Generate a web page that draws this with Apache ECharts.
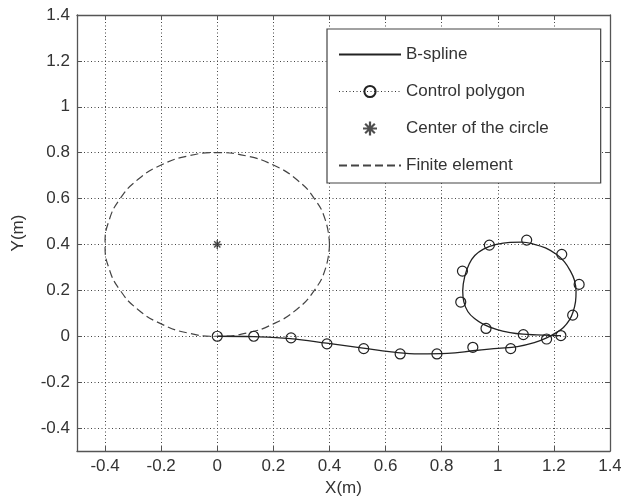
<!DOCTYPE html>
<html>
<head>
<meta charset="utf-8">
<script src="https://cdn.jsdelivr.net/npm/echarts@6/dist/echarts.min.js"></script>
<style>html,body{margin:0;padding:0;background:#fff}#c{width:621px;height:503px}</style>
</head>
<body>
<div id="c"></div>
<script>
// B-spline curve points
const splinePts = [
  [0,0],[0.13,-0.002],[0.26,-0.01],[0.39,-0.03],[0.52,-0.052],[0.62,-0.068],[0.72,-0.077],
  [0.82,-0.075],[0.92,-0.062],[1.0,-0.053],[1.07,-0.045],[1.13,-0.028],[1.174,-0.007],
  [1.21,0.017],[1.234,0.038],[1.255,0.07],[1.268,0.105],[1.277,0.15],[1.279,0.195],
  [1.273,0.245],[1.258,0.286],[1.237,0.325],[1.21,0.356],[1.17,0.385],[1.127,0.402],
  [1.085,0.41],[1.044,0.409],[0.995,0.4],[0.949,0.38],[0.918,0.352],[0.898,0.315],
  [0.882,0.26],[0.875,0.198],[0.879,0.15],[0.893,0.108],[0.917,0.077],[0.949,0.052],
  [0.995,0.03],[1.044,0.016],[1.09,0.009],[1.139,0.006],[1.185,0.004],[1.225,0.003]
];
// Control points (markers)
const controlPts = [
  [0,0],[0.13,0],[0.263,-0.007],[0.391,-0.033],[0.522,-0.054],[0.652,-0.077],[0.783,-0.077],
  [0.911,-0.048],[1.046,-0.054],[1.174,-0.012],[1.267,0.092],[1.29,0.226],[1.228,0.357],
  [1.103,0.419],[0.97,0.397],[0.874,0.284],[0.868,0.149],[0.958,0.034],[1.091,0.007],[1.225,0.003]
];
// Circle center
const centerPts = [[0,0.4]];
// Finite element (dashed circle) points
const circlePts = [
  [0.4,0.4],[0.386,0.504],[0.346,0.6],[0.283,0.683],[0.2,0.746],[0.104,0.786],[0,0.8],
  [-0.104,0.786],[-0.2,0.746],[-0.283,0.683],[-0.346,0.6],[-0.386,0.504],[-0.4,0.4],
  [-0.386,0.296],[-0.346,0.2],[-0.283,0.117],[-0.2,0.054],[-0.104,0.014],[0,0],
  [0.104,0.014],[0.2,0.054],[0.283,0.117],[0.346,0.2],[0.386,0.296],[0.4,0.4]
];
const seriesNames = ['B-spline','Control polygon','Center of the circle','Finite element'];

const FONT = 'Liberation Sans, Arial, sans-serif';
const TXT = '#333';
const AX = '#555';
const FS = 17;
const starPath = 'path://M4.2 0L5.8 0L5.8 10L4.2 10Z M0 4.2L10 4.2L10 5.8L0 5.8Z M1 2.1L2.1 1L9 7.9L7.9 9Z M7.9 1L9 2.1L2.1 9L1 7.9Z';

const baseAxis = {
  type: 'value', min: -0.5, max: 1.4, minInterval: 0.2, maxInterval: 0.2, splitNumber: 10
};
function mainAxis(extra) {
  return Object.assign({}, baseAxis, {
    axisLine: {show: true, onZero: false, lineStyle: {color: AX, width: 1.3}},
    axisTick: {show: true, inside: true, length: 5, lineStyle: {color: AX, width: 1}},
    axisLabel: {show: true, color: TXT, fontFamily: FONT, fontSize: FS, showMinLabel: false, margin: 7},
    splitLine: {show: true, lineStyle: {color: '#444', type: [1, 2.5], width: 1}},
    nameLocation: 'middle',
    nameTextStyle: {color: TXT, fontFamily: FONT, fontSize: FS}
  }, extra);
}
function sideAxis(extra) {
  return Object.assign({}, baseAxis, {
    axisLine: {show: true, onZero: false, lineStyle: {color: AX, width: 1.3}},
    axisTick: {show: true, inside: true, length: 5, lineStyle: {color: AX, width: 1}},
    axisLabel: {show: false},
    splitLine: {show: false}
  }, extra);
}

const chart = echarts.init(document.getElementById('c'), null, {renderer: 'canvas'});
chart.setOption({
  backgroundColor: '#fff',
  animation: false,
  grid: {left: 77, right: 11, top: 15, bottom: 52, containLabel: false, outerBoundsMode: 'none'},
  xAxis: [
    mainAxis({position: 'bottom', name: 'X(m)', nameGap: 28}),
    sideAxis({position: 'top'})
  ],
  yAxis: [
    mainAxis({position: 'left', name: 'Y(m)', nameGap: 50}),
    sideAxis({position: 'right'})
  ],
  legend: {
    orient: 'vertical',
    left: 327, top: 29,
    padding: [17, 52, 9, 11],
    itemGap: 20,
    itemWidth: 62, itemHeight: 14,
    backgroundColor: '#fff',
    borderColor: '#444', borderWidth: 1.2, borderRadius: 0,
    textStyle: {color: TXT, fontFamily: FONT, fontSize: FS},
    data: [
      {name: seriesNames[0], itemStyle: {opacity: 0}},
      {name: seriesNames[1], lineStyle: {type: [1, 2.5], width: 1.2, color: '#333', opacity: 1}},
      {name: seriesNames[2]},
      {name: seriesNames[3], itemStyle: {opacity: 0}}
    ]
  },
  series: [
    {
      name: seriesNames[0], type: 'line', data: splinePts, smooth: 0.4,
      symbol: 'none', itemStyle: {color: '#222'},
      lineStyle: {color: '#222', width: 1.3}, z: 3
    },
    {
      name: seriesNames[1], type: 'line', data: controlPts,
      symbol: 'circle', symbolSize: 10, showSymbol: true,
      lineStyle: {opacity: 0, width: 0, color: '#333'},
      itemStyle: {color: 'rgba(255,255,255,0)', borderColor: '#222', borderWidth: 1.2}, z: 4
    },
    {
      name: seriesNames[2], type: 'scatter', data: centerPts,
      symbol: starPath, symbolSize: 9, itemStyle: {color: '#222'}, z: 4
    },
    {
      name: seriesNames[3], type: 'line', data: circlePts, smooth: 0.5,
      symbol: 'none', itemStyle: {color: '#444'},
      lineStyle: {color: '#444', width: 1.2, type: [8, 4]}, z: 2
    }
  ]
});
</script>
</body>
</html>
